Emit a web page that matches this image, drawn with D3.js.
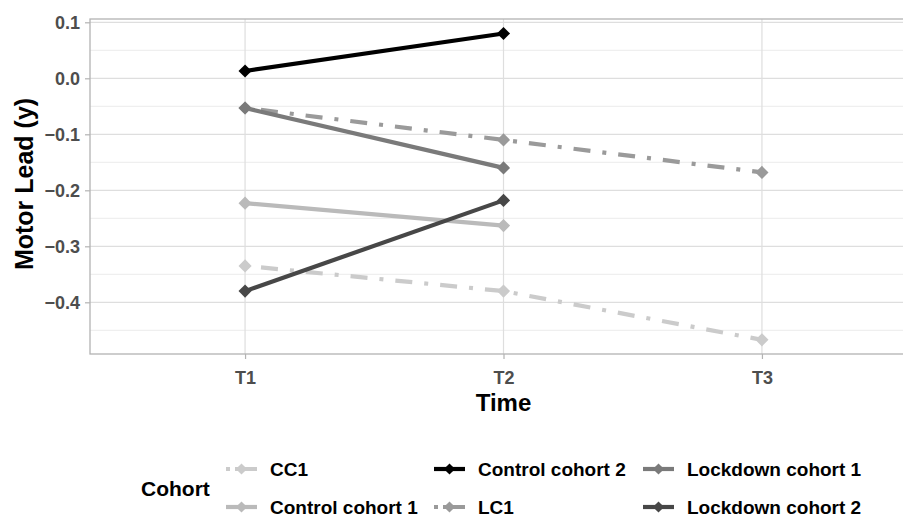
<!DOCTYPE html>
<html>
<head>
<meta charset="utf-8">
<script src="https://cdn.jsdelivr.net/npm/d3@7"></script>
<style>
  body { margin: 0; background: #fff; }
  svg { display: block; font-family: "Liberation Sans", Arial, sans-serif; }
</style>
</head>
<body>
<svg id="chart" width="903" height="518"></svg>
<script>
// data
const times = ["T1", "T2", "T3"];
const cohorts = ["CC1", "Control cohort 1", "Control cohort 2", "LC1", "Lockdown cohort 1", "Lockdown cohort 2"];
const cc1 = [-0.335, -0.380, -0.467];
const controlCohort1 = [-0.223, -0.263];
const controlCohort2 = [0.013, 0.080];
const lc1 = [-0.053, -0.110, -0.168];
const lockdownCohort1 = [-0.053, -0.160];
const lockdownCohort2 = [-0.380, -0.218];
const yTicks = [0.1, 0.0, -0.1, -0.2, -0.3, -0.4];
const yMinor = [0.05, -0.05, -0.15, -0.25, -0.35, -0.45];

const seriesValues = [cc1, controlCohort1, controlCohort2, lc1, lockdownCohort1, lockdownCohort2];
const colours = ["#cbcbcb", "#bababa", "#000000", "#9a9a9a", "#7a7a7a", "#474747"];
const dotdash = [true, false, false, true, false, false];

const series = cohorts.map((name, i) => ({
  name: name,
  colour: colours[i],
  dashed: dotdash[i],
  points: seriesValues[i].map((v, j) => ({ t: times[j], v: v }))
}));

const svg = d3.select("#chart");
const pLeft = 90, pRight = 917, pTop = 19, pBottom = 354;

const x = d3.scalePoint().domain(times).range([pLeft, pRight]).padding(0.6);
const y = d3.scaleLinear().domain([-0.4923, 0.1059]).range([pBottom, pTop]);

// clip for the panel (it runs off the right edge)
svg.append("defs").append("clipPath").attr("id", "panel")
  .append("rect").attr("x", pLeft).attr("y", pTop)
  .attr("width", pRight - pLeft).attr("height", pBottom - pTop);

// grid
const grid = svg.append("g");
grid.selectAll(".minor").data(yMinor).join("line")
  .attr("x1", pLeft).attr("x2", pRight)
  .attr("y1", d => y(d)).attr("y2", d => y(d))
  .attr("stroke", "#e6e6e6").attr("stroke-width", 0.8);
grid.selectAll(".major").data(yTicks).join("line")
  .attr("x1", pLeft).attr("x2", pRight)
  .attr("y1", d => y(d)).attr("y2", d => y(d))
  .attr("stroke", "#dedede").attr("stroke-width", 1.2);
grid.selectAll(".vmajor").data(times).join("line")
  .attr("x1", d => x(d)).attr("x2", d => x(d))
  .attr("y1", pTop).attr("y2", pBottom)
  .attr("stroke", "#dedede").attr("stroke-width", 1.2);

// panel border
svg.append("rect")
  .attr("x", pLeft).attr("y", pTop)
  .attr("width", pRight - pLeft).attr("height", pBottom - pTop)
  .attr("fill", "none").attr("stroke", "#b3b3b3").attr("stroke-width", 1.3);

// axes
const yAxis = svg.append("g")
  .attr("transform", `translate(${pLeft},0)`)
  .call(d3.axisLeft(y).tickValues(yTicks).tickFormat(d3.format(".1f")).tickSize(5).tickPadding(5));
const xAxis = svg.append("g")
  .attr("transform", `translate(0,${pBottom})`)
  .call(d3.axisBottom(x).tickSize(5).tickPadding(12));
[yAxis, xAxis].forEach(a => {
  a.select(".domain").remove();
  a.selectAll(".tick line").attr("stroke", "#b3b3b3").attr("stroke-width", 1.2);
  a.selectAll(".tick text")
    .attr("fill", "#4d4d4d")
    .style("font-size", "18px")
    .style("font-weight", "bold")
    .style("font-family", "Liberation Sans, Arial, sans-serif");
});
yAxis.selectAll(".tick text").attr("dy", "0.36em");

// axis titles
svg.append("text")
  .attr("x", x("T2")).attr("y", 411)
  .attr("text-anchor", "middle")
  .style("font-size", "24px").style("font-weight", "bold")
  .text("Time");
svg.append("text")
  .attr("transform", "translate(33,184) rotate(-90)")
  .attr("text-anchor", "middle")
  .style("font-size", "25px").style("font-weight", "bold")
  .text("Motor Lead (y)");

// lines and points
const line = d3.line().x(d => x(d.t)).y(d => y(d.v));
const diamond = d3.symbol().type(d3.symbolDiamond2).size(110);

const plot = svg.append("g").attr("clip-path", "url(#panel)");
const drawOrder = [0, 1, 3, 4, 5, 2];
drawOrder.forEach(i => {
  const s = series[i];
  plot.append("path")
    .datum(s.points)
    .attr("d", line)
    .attr("fill", "none")
    .attr("stroke", s.colour)
    .attr("stroke-width", 4.2)
    .attr("stroke-dasharray", s.dashed ? "4,12,17,12" : null);
});
drawOrder.forEach(i => {
  const s = series[i];
  plot.selectAll(null).data(s.points).join("path")
    .attr("transform", d => `translate(${x(d.t)},${y(d.v)})`)
    .attr("d", diamond)
    .attr("fill", s.colour);
});

// legend
const legend = svg.append("g");
legend.append("text")
  .attr("x", 141).attr("y", 496)
  .style("font-size", "21px").style("font-weight", "bold")
  .text("Cohort");

const colX = [226, 434, 643];
const rowY = [469, 507];
const keyDiamond = d3.symbol().type(d3.symbolDiamond2).size(80);
series.forEach((s, i) => {
  const col = Math.floor(i / 2), row = i % 2;
  const g = legend.append("g").attr("transform", `translate(${colX[col]},${rowY[row]})`);
  g.append("line")
    .attr("x1", 0).attr("x2", 31).attr("y1", 0).attr("y2", 0)
    .attr("stroke", s.colour).attr("stroke-width", 4.2)
    .attr("stroke-dasharray", s.dashed ? "4,5,22" : null);
  g.append("path")
    .attr("transform", "translate(15.5,0)")
    .attr("d", keyDiamond)
    .attr("fill", s.colour);
  g.append("text")
    .attr("x", 44).attr("y", 0).attr("dy", "0.36em")
    .style("font-size", "19px").style("font-weight", "bold")
    .text(s.name);
});
</script>
</body>
</html>
